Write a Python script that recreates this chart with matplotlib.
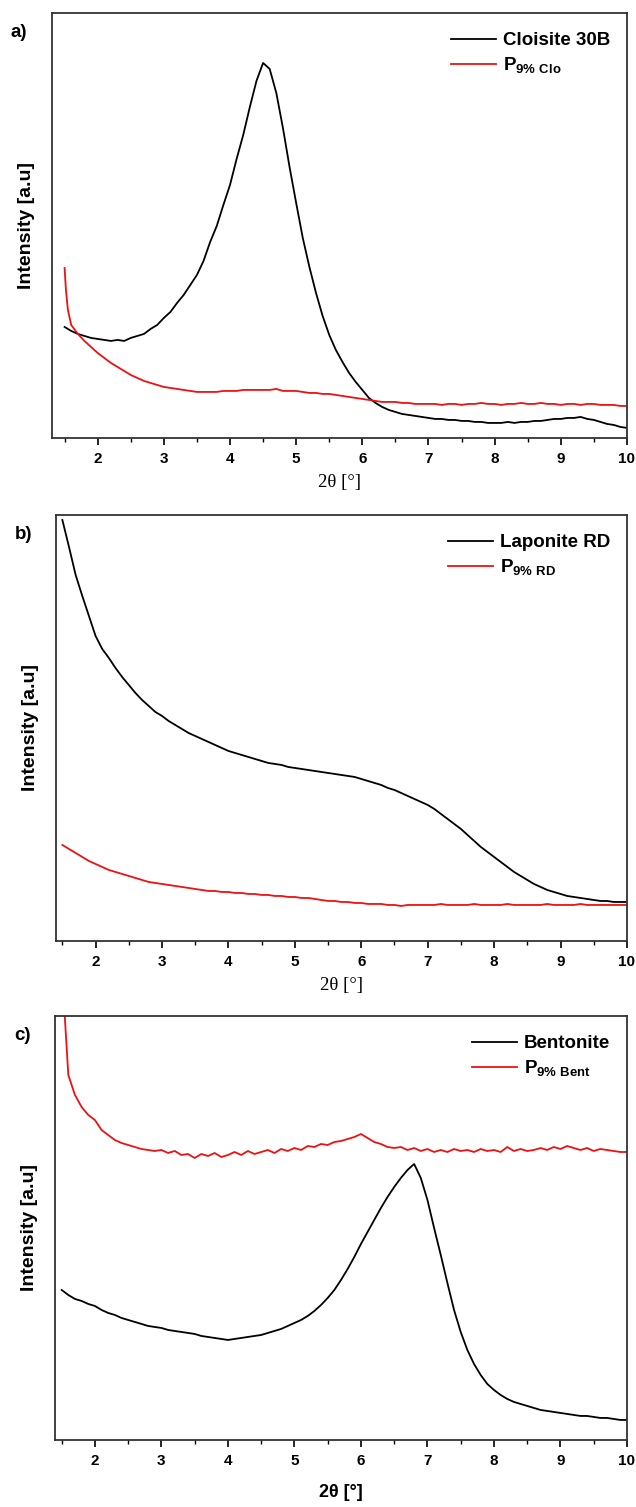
import numpy as np
import matplotlib
matplotlib.use("Agg")
import matplotlib.pyplot as plt
from matplotlib.ticker import MultipleLocator

plt.rcParams['font.family'] = ['Liberation Sans', 'DejaVu Sans']
plt.rcParams['mathtext.fontset'] = 'custom'
plt.rcParams['mathtext.rm'] = 'Liberation Sans'
plt.rcParams['mathtext.bf'] = 'Liberation Sans:bold'

# common 2theta grid (0.1 deg steps, 1.5 .. 10.0)
two_theta = [round(1.5 + 0.1 * i, 1) for i in range(86)]

# ---- a) Cloisite 30B / P9% Clo
clo_black = [111, 107, 104, 102, 100, 99, 98, 97, 98, 97, 100, 102, 104, 109, 113, 120,
             126, 135, 143, 153, 163, 177, 196, 212, 233, 253, 279, 303, 331, 357, 375,
             369, 345, 310, 271, 235, 200, 171, 145, 122, 103, 88, 76, 65, 56, 48, 40,
             35, 31, 28, 26, 24, 23, 22, 21, 20, 19, 19, 18, 18, 17, 17, 16, 16, 15, 15,
             15, 16, 15, 16, 16, 17, 17, 18, 19, 19, 20, 20, 21, 19, 18, 16, 14, 13, 11, 10]
clo_red_x = [1.5, 1.52, 1.55] + two_theta[1:]
clo_red = [170, 148, 128,
           113, 104, 97, 91, 85, 80, 75, 71, 67, 63, 60, 57, 55, 53, 51, 50, 49, 48, 47,
           46, 46, 46, 46, 47, 47, 47, 48, 48, 48, 48, 48, 49, 47, 47, 47, 46, 45, 45,
           44, 44, 43, 42, 41, 40, 39, 38, 37, 36, 36, 36, 35, 35, 34, 34, 34, 34, 33,
           34, 34, 33, 34, 34, 35, 34, 34, 33, 34, 34, 35, 34, 34, 35, 34, 34, 33, 34,
           34, 33, 34, 34, 33, 33, 33, 32, 32]

# ---- b) Laponite RD / P9% RD
lap_black = [421, 394, 366, 345, 325, 305, 292, 283, 273, 264, 256, 248, 241, 235, 229,
             225, 220, 216, 212, 208, 205, 202, 199, 196, 193, 190, 188, 186, 184, 182,
             180, 178, 177, 176, 174, 173, 172, 171, 170, 169, 168, 167, 166, 165, 164,
             162, 160, 158, 156, 153, 151, 148, 145, 142, 139, 136, 132, 127, 122, 117,
             112, 106, 100, 94, 89, 84, 79, 74, 69, 65, 61, 57, 54, 51, 49, 47, 45, 44,
             43, 42, 41, 40, 40, 39, 39, 39]
lap_red = [96, 92, 88, 84, 80, 77, 74, 71, 69, 67, 65, 63, 61, 59, 58, 57, 56, 55, 54,
           53, 52, 51, 50, 50, 49, 49, 48, 48, 47, 47, 46, 46, 45, 45, 44, 44, 43, 43,
           42, 41, 40, 40, 39, 39, 38, 38, 37, 37, 37, 36, 36, 35, 36, 36, 36, 36, 36,
           37, 36, 36, 36, 36, 37, 36, 36, 36, 36, 37, 36, 36, 36, 36, 36, 37, 36, 36,
           36, 36, 37, 36, 36, 36, 36, 36, 36, 36]

# ---- c) Bentonite / P9% Bent
ben_black = [150, 145, 141, 139, 136, 134, 130, 127, 125, 122, 120, 118, 116, 114, 113,
             112, 110, 109, 108, 107, 106, 104, 103, 102, 101, 100, 101, 102, 103, 104,
             105, 107, 109, 111, 114, 117, 120, 124, 129, 135, 142, 150, 160, 171, 183,
             196, 208, 220, 232, 243, 253, 262, 270, 276, 262, 240, 212, 185, 157, 130,
             108, 90, 76, 65, 56, 50, 45, 41, 38, 36, 34, 32, 30, 29, 28, 27, 26, 25, 24,
             24, 23, 22, 22, 21, 20, 20]
ben_red_x = [1.52, 1.55] + two_theta[1:]
ben_red = [470, 420,
           365, 345, 333, 325, 320, 310, 305, 300, 297, 295, 293, 291, 290, 289, 290,
           287, 289, 285, 286, 282, 286, 284, 287, 283, 285, 288, 285, 289, 286, 288,
           290, 287, 291, 289, 292, 290, 294, 293, 296, 295, 298, 299, 301, 303, 306,
           302, 298, 296, 293, 292, 293, 290, 292, 289, 291, 288, 290, 288, 291, 289,
           290, 288, 291, 289, 290, 288, 293, 289, 291, 289, 290, 292, 290, 293, 291,
           294, 292, 290, 292, 289, 291, 290, 289, 288, 288]

panels = [
    dict(tag='a)', rect=[0.0818, 0.7094, 0.9040, 0.2820], xmin=1.31, ylim=425,
         black=(two_theta, clo_black), red=(clo_red_x, clo_red),
         names=['Cloisite 30B', r'P$_{\mathbf{9\%\ Clo}}$'], serif=True),
    dict(tag='b)', rect=[0.0876, 0.3756, 0.8982, 0.2827], xmin=1.40, ylim=426,
         black=(two_theta, lap_black), red=(two_theta, lap_red),
         names=['Laponite RD', r'P$_{\mathbf{9\%\ RD}}$'], serif=True),
    dict(tag='c)', rect=[0.0865, 0.0445, 0.8993, 0.2813], xmin=1.40, ylim=424,
         black=(two_theta, ben_black), red=(ben_red_x, ben_red),
         names=['Bentonite', r'P$_{\mathbf{9\%\ Bent}}$'], serif=False),
]

fig = plt.figure(figsize=(6.36, 15.07), dpi=100)

for p in panels:
    ax = fig.add_axes(p['rect'])
    ax.plot(*p['black'], color='black', lw=1.3, label=p['names'][0])
    ax.plot(*p['red'], color='#ee1111', lw=1.3, label=p['names'][1])
    ax.set_xlim(p['xmin'], 10)
    ax.set_ylim(0, p['ylim'])
    ax.set_yticks([])
    ax.xaxis.set_major_locator(MultipleLocator(1))
    ax.xaxis.set_minor_locator(MultipleLocator(0.5))
    ax.tick_params(axis='x', which='major', direction='out', length=5, width=1.2,
                   labelsize=11, pad=5, top=False)
    ax.tick_params(axis='x', which='minor', direction='out', length=3, width=1.0, top=False)
    for lab in ax.get_xticklabels():
        lab.set_fontweight('bold')
    for s in ax.spines.values():
        s.set_linewidth(1.3)
        s.set_color('#333333')
    ax.set_ylabel('Intensity [a.u]', fontsize=14, fontweight='bold', labelpad=12)
    if p['serif']:
        ax.set_xlabel('2θ [°]', fontsize=13.5, family=['Liberation Serif', 'DejaVu Serif'],
                      labelpad=6)
    else:
        ax.set_xlabel('2θ [°]', fontsize=13, fontweight='bold', labelpad=12)
    ax.text(-0.072, 0.955, p['tag'], transform=ax.transAxes, fontsize=13.5,
            fontweight='bold', ha='left', va='center')
    leg = ax.legend(loc='upper right', bbox_to_anchor=(1.0, 0.995), frameon=False,
                    handlelength=2.4, handletextpad=0.37, labelspacing=0.35,
                    prop=dict(weight='bold', size=13.5))

fig.savefig('out.png', dpi=100)
